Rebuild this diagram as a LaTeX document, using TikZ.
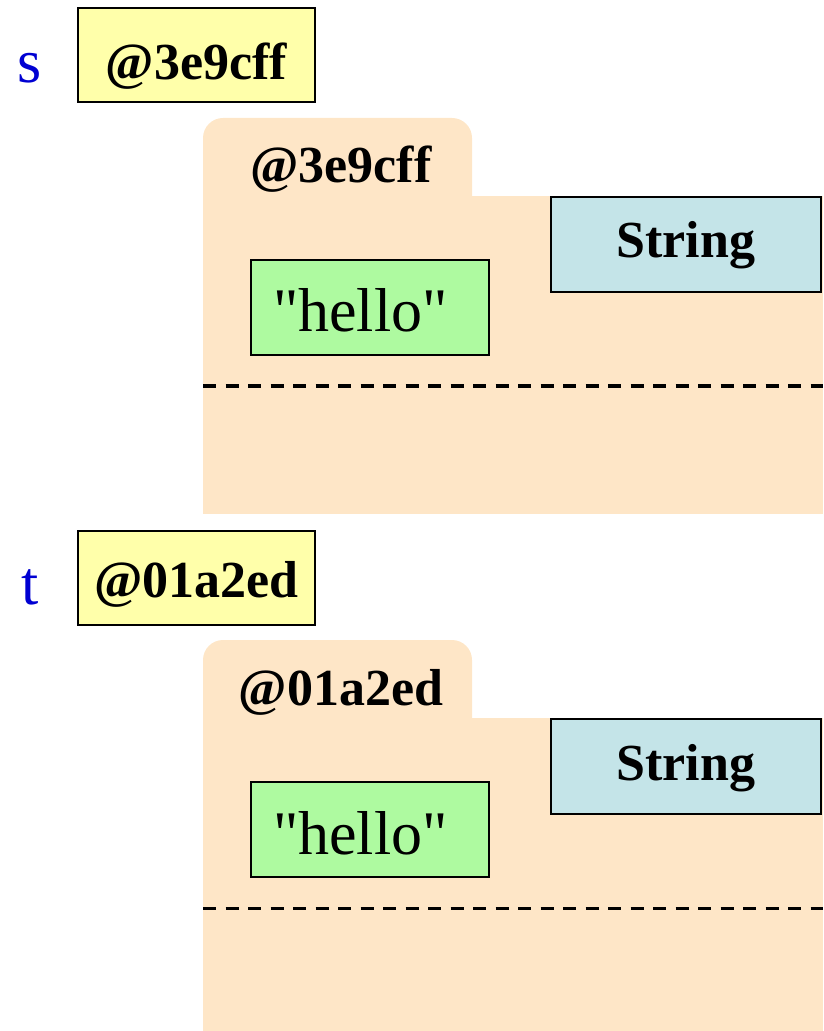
\documentclass[tikz,border=0pt]{standalone}
\usepackage{fontspec}
\setmainfont{Liberation Serif}
\usepackage{tikz}
\definecolor{refyellow}{RGB}{255,255,170}
\definecolor{objpeach}{RGB}{254,230,199}
\definecolor{valgreen}{RGB}{174,250,160}
\definecolor{typeblue}{RGB}{196,228,232}
\definecolor{varblue}{RGB}{0,0,210}

\begin{document}
\begin{tikzpicture}[
        x=0.5pt, y=-0.5pt,
        lift/.style={text height=#1, text depth=0pt, inner ysep=3pt},
        refbox/.style={draw, line width=1pt, fill=refyellow, minimum width=118.5pt, minimum height=47pt, font=\fontsize{26}{30}\selectfont\bfseries},
        typebox/.style={draw, line width=1pt, fill=typeblue, minimum width=135pt, minimum height=47.5pt, font=\fontsize{26}{30}\selectfont\bfseries},
        valbox/.style={draw, line width=1pt, fill=valgreen, minimum width=119pt, minimum height=47.5pt, text width=97pt, align=left, inner xsep=11pt, font=\fontsize{31}{36}\selectfont},
        varname/.style={text=varblue, anchor=base, font=\fontsize{31}{36}\selectfont},
        tablabel/.style={anchor=base, font=\fontsize{26}{30}\selectfont\bfseries},
        divider/.style={line width=1.5pt, dash pattern=on 6.5pt off 4.75pt},
    ]
        \useasboundingbox (0,0) rectangle (823,1031);
        % first object
        \node[varname] (svar) at (30,83) {s};
        \node[refbox, lift=25pt] (sref) at (196.5,55) {@3e9cff};
        \fill[objpeach, rounded corners=10pt] (203,240) |- (472,118) -- (472,240) -- cycle;
        \fill[objpeach] (203,196) rectangle (823,514);
        \node[tablabel] (stab) at (341,183) {@3e9cff};
        \node[typebox, lift=13.5pt] (stype) at (686,244.5) {String};
        \node[valbox, lift=24.5pt] (sval) at (370,307.5) {\textquotedbl hello\textquotedbl};
        \coordinate (sdl) at (203,386);
        \coordinate (sdr) at (823,386);
        \draw[divider] (sdl) -- (sdr);
        % second object
        \node[varname] (tvar) at (30,604) {t};
        \node[refbox, lift=20pt] (tref) at (196.5,577.5) {@01a2ed};
        \fill[objpeach, rounded corners=10pt] (203,760) |- (472,640) -- (472,760) -- cycle;
        \fill[objpeach] (203,718) rectangle (823,1031);
        \node[tablabel] (ttab) at (341,705) {@01a2ed};
        \node[typebox, lift=13.5pt] (ttype) at (686,766.5) {String};
        \node[valbox, lift=24.5pt] (tval) at (370,829.5) {\textquotedbl hello\textquotedbl};
        \coordinate (tdl) at (203,908);
        \coordinate (tdr) at (823,908);
        \draw[divider] (tdl) -- (tdr);
    \end{tikzpicture}
\end{document}
